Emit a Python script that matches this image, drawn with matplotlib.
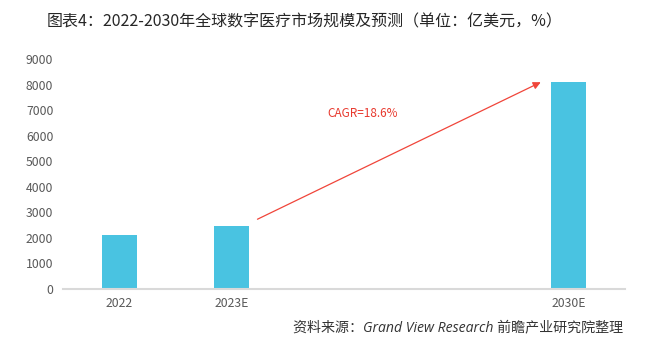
import matplotlib.pyplot as plt

plt.rcParams['font.family'] = ['Noto Sans CJK SC', 'DejaVu Sans']

# Data (亿美元)
categories = ['2022', '2023E', '', '', '2030E']
positions = [0, 1, 2, 3, 4]
bar_labels = ['2022', '2023E', '2030E']
bar_positions = [0, 1, 4]
market_size = [2110, 2460, 8100]
cagr_text = 'CAGR=18.6%'

fig = plt.figure(figsize=(6.64, 3.57), dpi=100)
ax = fig.add_axes([0.0949, 0.1905, 0.8464, 0.6443])

ax.bar(bar_positions, market_size, width=0.31, color='#49C3E1', zorder=2)

ax.set_xlim(-0.5, 4.5)
ax.set_ylim(0, 9000)
ax.set_yticks(range(0, 9001, 1000))
ax.set_xticks(positions)
ax.set_xticklabels(categories)
ax.tick_params(axis='both', length=0, labelsize=8.8, colors='#595959')
ax.tick_params(axis='x', pad=6)
ax.tick_params(axis='y', pad=7)

for side in ['top', 'right', 'left']:
    ax.spines[side].set_visible(False)
ax.spines['bottom'].set_color('#D9D9D9')
ax.spines['bottom'].set_linewidth(1.5)

# CAGR arrow from 2023E to 2030E
ax.annotate('', xy=(3.75, 8090), xytext=(1.23, 2730),
            arrowprops=dict(arrowstyle='-|>', color='#F0453A', lw=0.9,
                            mutation_scale=11, shrinkA=0, shrinkB=0))
ax.text(1.85, 6870, cagr_text, color='#E8392E', fontsize=8.5,
        ha='left', va='center')

fig.text(0.071, 0.938, '图表4：2022-2030年全球数字医疗市场规模及预测（单位：亿美元，%）',
         fontsize=11.5, color='#262626', ha='left', va='center')
fig.text(0.938, 0.083, '资料来源：Grand View Research 前瞻产业研究院整理',
         fontsize=10.1, color='#333333', ha='right', va='center', style='italic',
         family=['Open Sans', 'Noto Sans CJK SC'])

fig.savefig('out.png', dpi=100, facecolor='white')
